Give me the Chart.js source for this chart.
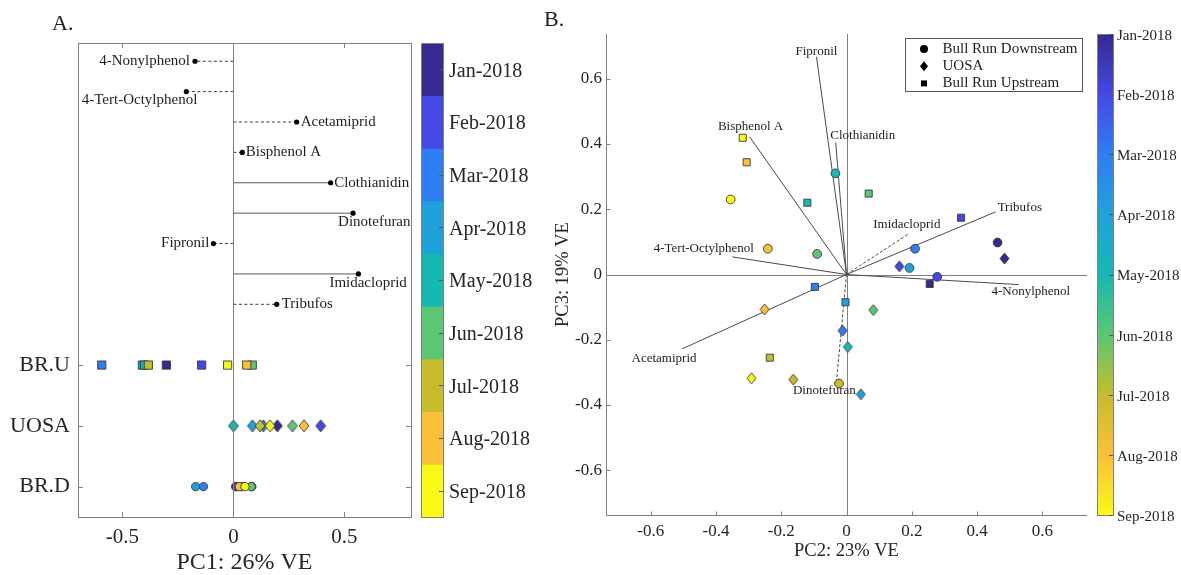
<!DOCTYPE html>
<html>
<head>
<meta charset="utf-8">
<title>PCA loadings and scores</title>
<script src="https://cdn.jsdelivr.net/npm/chart.js@4.4.1/dist/chart.umd.min.js"></script>
<style>
html,body{margin:0;padding:0;background:#fff;}
#wrap{position:relative;width:1181px;height:575px;overflow:hidden;background:#fff;}
#wrap canvas{position:absolute;top:0;}
.plab{position:absolute;font-family:"Liberation Serif",serif;font-size:22px;line-height:22px;color:#222;}
</style>
</head>
<body>
<div id="wrap">
  <canvas id="chartA" width="420" height="575" style="left:0px;width:420px;height:575px"></canvas>
  <canvas id="barA" width="130" height="575" style="left:415px;width:130px;height:575px"></canvas>
  <canvas id="chartB" width="560" height="575" style="left:540px;width:560px;height:575px"></canvas>
  <canvas id="barB" width="91" height="575" style="left:1090px;width:91px;height:575px"></canvas>
  <div class="plab" style="left:52px;top:12px">A.</div>
  <div class="plab" style="left:544px;top:8px">B.</div>
</div>
<script>
// ---------------- DATA ----------------
const months = ['Jan-2018','Feb-2018','Mar-2018','Apr-2018','May-2018','Jun-2018','Jul-2018','Aug-2018','Sep-2018'];
const monthColors = ['#36298f','#4449e6','#2f7df5','#1fa2dc','#14b9b2','#5bc772','#c6bc2c','#fcc038','#f9f916'];

const compounds = ['4-Nonylphenol','4-Tert-Octylphenol','Acetamiprid','Bisphenol A','Clothianidin','Dinotefuran','Fipronil','Imidacloprid','Tribufos'];
const pc1Loadings = [-0.173,-0.212,0.285,0.040,0.438,0.539,-0.090,0.563,0.195];
const pc1SolidLine = [false,false,false,false,true,true,false,true,false];
const pc2Loadings = [0.528,-0.350,-0.504,-0.297,-0.033,-0.031,-0.092,0.191,0.457];
const pc3Loadings = [-0.031,0.054,-0.228,0.422,0.404,-0.330,0.667,0.125,0.192];
const pc23SolidLine = [true,true,true,true,true,false,true,false,true];

const siteCodes = ['BR.D','UOSA','BR.U'];
const siteNames = ['Bull Run Downstream','UOSA','Bull Run Upstream'];

// PC1 scores, Jan..Sep
const pc1_BRD  = [0.010,0.015,-0.135,-0.170,0.083,0.080,0.038,0.027,0.052];
const pc1_UOSA = [0.198,0.393,0.135,0.086,0.000,0.266,0.120,0.318,0.165];
const pc1_BRU  = [-0.302,-0.143,-0.593,-0.410,-0.400,0.085,-0.383,0.060,-0.026];

// PC2 / PC3 scores, Jan..Sep
const pc2_BRD  = [0.463,0.278,0.210,0.193,-0.034,-0.090,-0.023,-0.241,-0.355];
const pc3_BRD  = [0.098,-0.007,0.079,0.020,0.310,0.063,-0.334,0.079,0.230];
const pc2_UOSA = [0.484,0.162,-0.012,0.044,0.004,0.082,-0.163,-0.251,-0.291];
const pc3_UOSA = [0.049,0.025,-0.172,-0.367,-0.222,-0.109,-0.322,-0.107,-0.318];
const pc2_BRU  = [0.255,0.351,-0.097,-0.003,-0.120,0.068,-0.235,-0.306,-0.318];
const pc3_BRU  = [-0.029,0.174,-0.038,-0.085,0.220,0.248,-0.255,0.344,0.419];

const pc1Ticks = [-0.5,0,0.5];
const pc23Ticks = [-0.6,-0.4,-0.2,0,0.2,0.4,0.6];

// ---------------- STYLE ----------------
const FONT = '"Liberation Serif", "Times New Roman", serif';
const axisColor = '#808080';
const textColor = '#262626';
const edgeColor = '#3a3a3a';

const labelPlaceA = [
  {dx:-5, dy:0, align:'right'},
  {dx:11, dy:8.5, align:'right'},
  {dx:4, dy:0, align:'left'},
  {dx:3.5, dy:0, align:'left'},
  {dx:3.5, dy:0, align:'left'},
  {dx:-15, dy:9, align:'left'},
  {dx:-4, dy:0, align:'right'},
  {dx:-29, dy:9.5, align:'left'},
  {dx:5, dy:0, align:'left'}
];
const labelPlaceB = [
  {dx:12, dy:7, align:'center'},
  {dx:-28.5, dy:-8, align:'center'},
  {dx:-18, dy:9.5, align:'center'},
  {dx:1, dy:-10, align:'center'},
  {dx:27, dy:-7, align:'center'},
  {dx:-12, dy:8.5, align:'center'},
  {dx:0, dy:-5, align:'center'},
  {dx:-2, dy:-9, align:'center'},
  {dx:2, dy:-4, align:'left'}
];

const fmt = v => { const r = Math.round(v*10)/10; return r === 0 ? '0' : String(r); };
const snap = v => Math.round(v) + 0.5;
function seg(ctx, x1, y1, x2, y2){ ctx.beginPath(); ctx.moveTo(x1,y1); ctx.lineTo(x2,y2); ctx.stroke(); }

function diamondImg(color, w, h){
  const c = document.createElement('canvas');
  c.width = w + 2; c.height = h + 2;
  const g = c.getContext('2d');
  g.beginPath();
  g.moveTo(c.width/2, 1); g.lineTo(c.width-1, c.height/2);
  g.lineTo(c.width/2, c.height-1); g.lineTo(1, c.height/2); g.closePath();
  g.fillStyle = color; g.fill();
  g.lineWidth = 0.9; g.strokeStyle = edgeColor; g.stroke();
  return c;
}
const diamondsA = monthColors.map(c => diamondImg(c, 10, 12));
const diamondsB = monthColors.map(c => diamondImg(c, 9, 11));

const rowOfCompound = i => 8 - 0.5 * i;   // loading rows above the three site rows
const rowOfSite = s => s + 1;              // BR.D=1, UOSA=2, BR.U=3

// ---------------- PANEL A ----------------
const pc1BySite = [pc1_BRD, pc1_UOSA, pc1_BRU];
const siteDatasetsA = siteCodes.map((code, s) => ({
  label: code,
  data: pc1BySite[s].map(v => ({x: v, y: rowOfSite(s)})),
  pointStyle: s === 1 ? diamondsA : (s === 0 ? 'circle' : 'rect'),
  pointRadius: s === 0 ? 4.2 : (s === 1 ? 6 : 5.8),
  pointBackgroundColor: monthColors,
  pointBorderColor: edgeColor,
  pointBorderWidth: 0.9,
  showLine: false
}));
const loadingDatasetsA = compounds.map((name, i) => ({
  label: name,
  data: [{x: 0, y: rowOfCompound(i)}, {x: pc1Loadings[i], y: rowOfCompound(i)}],
  showLine: true,
  borderColor: pc1SolidLine[i] ? '#5a5a5a' : '#3a3a3a',
  borderWidth: 1,
  borderDash: pc1SolidLine[i] ? [] : [3, 2.5],
  pointRadius: [0, 2.6],
  pointStyle: 'circle',
  pointBackgroundColor: '#000',
  pointBorderColor: '#000',
  pointBorderWidth: 0
}));

const panelADecor = {
  id: 'panelADecor',
  afterDatasetsDraw(chart){
    const {ctx, chartArea: a, scales: {x, y}} = chart;
    ctx.save();
    ctx.strokeStyle = axisColor; ctx.lineWidth = 1;
    const x0 = snap(x.getPixelForValue(0));
    seg(ctx, x0, a.top, x0, a.bottom);
    ctx.strokeRect(snap(a.left), snap(a.top), Math.round(a.right - a.left), Math.round(a.bottom - a.top));
    x.ticks.forEach(t => {
      const p = snap(x.getPixelForValue(t.value));
      seg(ctx, p, a.bottom, p, a.bottom - 5);
      seg(ctx, p, a.top, p, a.top + 5);
    });
    y.ticks.forEach(t => {
      const p = snap(y.getPixelForValue(t.value));
      seg(ctx, a.left, p, a.left + 5, p);
      seg(ctx, a.right, p, a.right - 5, p);
    });
    ctx.font = '15px ' + FONT;
    ctx.fillStyle = '#1e1e1e';
    ctx.textBaseline = 'middle';
    compounds.forEach((name, i) => {
      const pl = labelPlaceA[i];
      const px = x.getPixelForValue(pc1Loadings[i]);
      const py = y.getPixelForValue(rowOfCompound(i));
      ctx.textAlign = pl.align;
      ctx.fillText(name, px + pl.dx, py + pl.dy);
    });
    ctx.restore();
  }
};

new Chart(document.getElementById('chartA'), {
  type: 'scatter',
  data: { datasets: [...siteDatasetsA, ...loadingDatasetsA] },
  options: {
    responsive: false, animation: false, devicePixelRatio: 1,
    layout: { padding: { left: 0, top: 43, right: 9, bottom: 0 } },
    plugins: { legend: { display: false }, tooltip: { enabled: false } },
    events: [],
    scales: {
      x: {
        type: 'linear', min: -0.7, max: 0.8,
        afterBuildTicks: s => { s.ticks = pc1Ticks.map(v => ({value: v})); },
        afterFit: s => { s.height = 58; },
        grid: { display: false, drawTicks: false },
        border: { display: false },
        ticks: { font: { family: FONT, size: 21 }, color: textColor, padding: 8, callback: v => fmt(v), maxRotation: 0 },
        title: { display: true, text: 'PC1: 26% VE', color: textColor, font: { family: FONT, size: 24, lineHeight: 1 }, padding: { top: 0, bottom: 0 } }
      },
      y: {
        type: 'linear', min: 0.5, max: 8.3,
        afterBuildTicks: s => { s.ticks = siteCodes.map((c, i) => ({value: rowOfSite(i)})); },
        afterFit: s => { s.width = 78; },
        grid: { display: false, drawTicks: false },
        border: { display: false },
        ticks: { font: { family: FONT, size: 22 }, color: textColor, padding: 8, callback: v => siteCodes[Math.round(v) - 1] }
      }
    }
  },
  plugins: [panelADecor]
});

// ---------------- COLORBAR A (discrete) ----------------
const colorbarDecor = {
  id: 'colorbarDecor',
  afterDatasetsDraw(chart){
    const {ctx, chartArea: a, scales: {y}} = chart;
    ctx.save();
    ctx.strokeStyle = axisColor; ctx.lineWidth = 1;
    ctx.strokeRect(snap(a.left), snap(a.top), Math.round(a.right - a.left), Math.round(a.bottom - a.top));
    ctx.strokeStyle = '#555';
    y.ticks.forEach(t => {
      const p = snap(y.getPixelForValue(t.value));
      seg(ctx, a.right, p, a.right - 4, p);
    });
    ctx.restore();
  }
};

new Chart(document.getElementById('barA'), {
  type: 'bar',
  data: {
    labels: [''],
    datasets: months.map((m, i) => ({
      label: m, data: [1], backgroundColor: monthColors[i], borderWidth: 0,
      barPercentage: 1, categoryPercentage: 1, stack: 'cb'
    }))
  },
  options: {
    responsive: false, animation: false, devicePixelRatio: 1, events: [],
    layout: { padding: { left: 6, top: 43, right: 0, bottom: 58 } },
    plugins: { legend: { display: false }, tooltip: { enabled: false } },
    scales: {
      x: { display: false, stacked: true },
      y: {
        type: 'linear', position: 'right', stacked: true, min: 0, max: months.length, reverse: true,
        afterBuildTicks: s => { s.ticks = months.map((m, i) => ({value: i + 0.5})); },
        afterFit: s => { s.width = 102; },
        grid: { display: false, drawTicks: false }, border: { display: false },
        ticks: { font: { family: FONT, size: 20 }, color: textColor, padding: 6, labelOffset: 2, callback: v => months[Math.floor(v)] }
      }
    }
  },
  plugins: [colorbarDecor]
});

// ---------------- PANEL B ----------------
const pcBySite = [[pc2_BRD, pc3_BRD], [pc2_UOSA, pc3_UOSA], [pc2_BRU, pc3_BRU]];
const siteDatasetsB = siteNames.map((name, s) => ({
  label: name,
  data: pcBySite[s][0].map((v, k) => ({x: v, y: pcBySite[s][1][k]})),
  pointStyle: s === 1 ? diamondsB : (s === 0 ? 'circle' : 'rect'),
  pointRadius: s === 0 ? 4.4 : (s === 1 ? 6 : 5),
  pointBackgroundColor: monthColors,
  pointBorderColor: edgeColor,
  pointBorderWidth: 0.9,
  showLine: false
}));
const loadingDatasetsB = compounds.map((name, i) => ({
  label: name,
  data: [{x: 0, y: 0}, {x: pc2Loadings[i], y: pc3Loadings[i]}],
  showLine: true,
  borderColor: '#4a4a4a',
  borderWidth: 1,
  borderDash: pc23SolidLine[i] ? [] : [3, 2],
  pointRadius: 0
}));

const panelBDecor = {
  id: 'panelBDecor',
  beforeDatasetsDraw(chart){
    const {ctx, chartArea: a, scales: {x, y}} = chart;
    ctx.save();
    ctx.strokeStyle = axisColor; ctx.lineWidth = 1;
    const x0 = snap(x.getPixelForValue(0)), y0 = snap(y.getPixelForValue(0));
    seg(ctx, x0, a.top, x0, a.bottom);
    seg(ctx, a.left, y0, a.right, y0);
    ctx.restore();
  },
  afterDatasetsDraw(chart){
    const {ctx, chartArea: a, scales: {x, y}} = chart;
    ctx.save();
    ctx.strokeStyle = axisColor; ctx.lineWidth = 1;
    const L = snap(a.left), B = snap(a.bottom);
    seg(ctx, L, a.top, L, B);
    seg(ctx, L, B, a.right, B);
    x.ticks.forEach(t => { const p = snap(x.getPixelForValue(t.value)); seg(ctx, p, B, p, B - 4); });
    y.ticks.forEach(t => { const p = snap(y.getPixelForValue(t.value)); seg(ctx, L, p, L + 4, p); });
    // loading labels
    ctx.font = '13px ' + FONT;
    ctx.fillStyle = '#1e1e1e';
    ctx.textBaseline = 'middle';
    compounds.forEach((name, i) => {
      const pl = labelPlaceB[i];
      const px = x.getPixelForValue(pc2Loadings[i]);
      const py = y.getPixelForValue(pc3Loadings[i]);
      ctx.textAlign = pl.align;
      ctx.fillText(name, px + pl.dx, py + pl.dy);
    });
    // legend
    const bw = 177, bh = 53;
    const lx = Math.round(a.right - 5 - bw), ly = Math.round(a.top + 4);
    ctx.fillStyle = '#fff';
    ctx.fillRect(lx, ly, bw, bh);
    ctx.strokeStyle = '#555';
    ctx.strokeRect(lx + 0.5, ly + 0.5, bw, bh);
    ctx.font = '15px ' + FONT;
    ctx.textAlign = 'left';
    siteNames.forEach((name, k) => {
      const ry = ly + 11 + k * 17.2;
      const mx = lx + 19;
      ctx.fillStyle = '#000';
      ctx.beginPath();
      if (k === 0) { ctx.arc(mx, ry, 4, 0, Math.PI * 2); }
      else if (k === 1) { ctx.moveTo(mx, ry - 5); ctx.lineTo(mx + 4, ry); ctx.lineTo(mx, ry + 5); ctx.lineTo(mx - 4, ry); ctx.closePath(); }
      else { ctx.rect(mx - 3, ry - 3, 6, 6); }
      ctx.fill();
      ctx.fillStyle = '#1e1e1e';
      ctx.fillText(name, lx + 37.5, ry);
    });
    ctx.restore();
  }
};

new Chart(document.getElementById('chartB'), {
  type: 'scatter',
  data: { datasets: [...siteDatasetsB, ...loadingDatasetsB] },
  options: {
    responsive: false, animation: false, devicePixelRatio: 1, events: [],
    layout: { padding: { left: 0, top: 34, right: 13, bottom: 0 } },
    plugins: { legend: { display: false }, tooltip: { enabled: false } },
    scales: {
      x: {
        type: 'linear', min: -0.737, max: 0.737,
        afterBuildTicks: s => { s.ticks = pc23Ticks.map(v => ({value: v})); },
        afterFit: s => { s.height = 60; },
        grid: { display: false, drawTicks: false }, border: { display: false },
        ticks: { font: { family: FONT, size: 17 }, color: textColor, padding: 6.5, callback: v => fmt(v), maxRotation: 0 },
        title: { display: true, text: 'PC2: 23% VE', color: textColor, font: { family: FONT, size: 18.5, lineHeight: 1 }, padding: { top: 0, bottom: 14.75 } }
      },
      y: {
        type: 'linear', min: -0.737, max: 0.737,
        afterBuildTicks: s => { s.ticks = pc23Ticks.map(v => ({value: v})); },
        afterFit: s => { s.width = 66; },
        grid: { display: false, drawTicks: false }, border: { display: false },
        ticks: { font: { family: FONT, size: 17 }, color: textColor, padding: 4, callback: v => fmt(v) },
        title: { display: true, text: 'PC3: 19% VE', color: textColor, font: { family: FONT, size: 18.5, lineHeight: 1 }, padding: { top: 13.75, bottom: 0 } }
      }
    }
  },
  plugins: [panelBDecor]
});

// ---------------- COLORBAR B (continuous) ----------------
new Chart(document.getElementById('barB'), {
  type: 'bar',
  data: {
    labels: [''],
    datasets: [{
      label: 'month',
      data: [months.length - 1],
      backgroundColor: (c) => {
        const a = c.chart.chartArea;
        if (!a) return monthColors[0];
        const g = c.chart.ctx.createLinearGradient(0, a.top, 0, a.bottom);
        monthColors.forEach((col, i) => g.addColorStop(i / (monthColors.length - 1), col));
        return g;
      },
      borderWidth: 0, barPercentage: 1, categoryPercentage: 1
    }]
  },
  options: {
    responsive: false, animation: false, devicePixelRatio: 1, events: [],
    layout: { padding: { left: 7, top: 34, right: 0, bottom: 60 } },
    plugins: { legend: { display: false }, tooltip: { enabled: false } },
    scales: {
      x: { display: false },
      y: {
        type: 'linear', position: 'right', min: 0, max: months.length - 1, reverse: true,
        afterBuildTicks: s => { s.ticks = months.map((m, i) => ({value: i})); },
        afterFit: s => { s.width = 68; },
        grid: { display: false, drawTicks: false }, border: { display: false },
        ticks: { font: { family: FONT, size: 15 }, color: textColor, padding: 4, labelOffset: 2, callback: v => months[Math.round(v)] }
      }
    }
  },
  plugins: [colorbarDecor]
});
</script>
</body>
</html>
